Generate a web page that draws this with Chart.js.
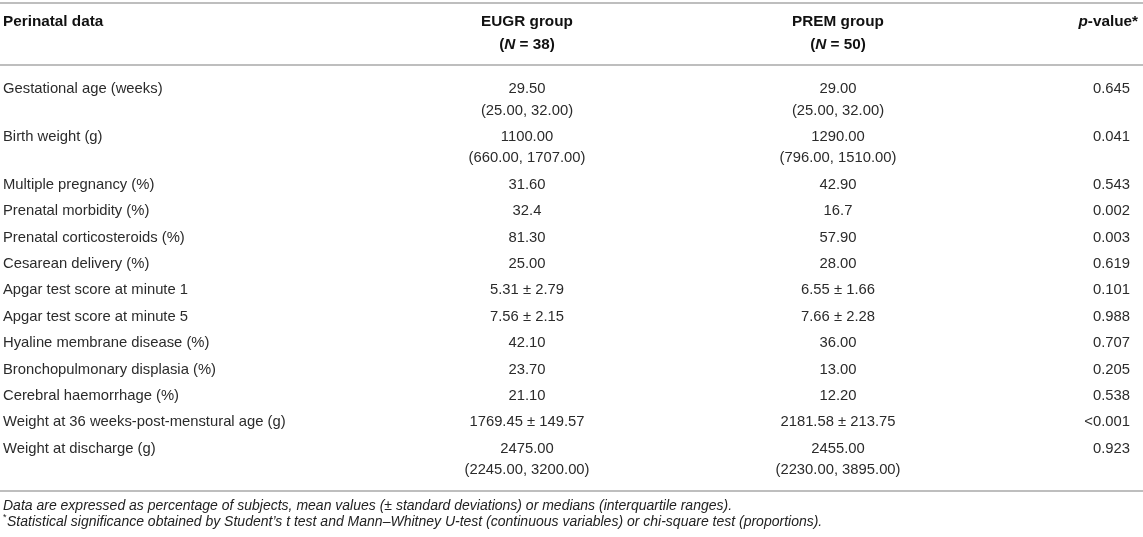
<!DOCTYPE html>
<html>
<head>
<meta charset="utf-8">
<script src="https://cdn.jsdelivr.net/npm/chart.js@4.4.1/dist/chart.umd.min.js"></script>
<style>
  html, body { margin: 0; padding: 0; background: #fff; }
  #tableChart { display: block; }
</style>
</head>
<body>
<canvas id="tableChart" width="1143" height="537"></canvas>
<script>
  'use strict';

  // table content
  var perinatalData = [
    'Gestational age (weeks)',
    'Birth weight (g)',
    'Multiple pregnancy (%)',
    'Prenatal morbidity (%)',
    'Prenatal corticosteroids (%)',
    'Cesarean delivery (%)',
    'Apgar test score at minute 1',
    'Apgar test score at minute 5',
    'Hyaline membrane disease (%)',
    'Bronchopulmonary displasia (%)',
    'Cerebral haemorrhage (%)',
    'Weight at 36 weeks-post-menstural age (g)',
    'Weight at discharge (g)'
  ];
  var eugrGroup = [
    '29.50\n(25.00, 32.00)',
    '1100.00\n(660.00, 1707.00)',
    '31.60',
    '32.4',
    '81.30',
    '25.00',
    '5.31 \u00b1 2.79',
    '7.56 \u00b1 2.15',
    '42.10',
    '23.70',
    '21.10',
    '1769.45 \u00b1 149.57',
    '2475.00\n(2245.00, 3200.00)'
  ];
  var premGroup = [
    '29.00\n(25.00, 32.00)',
    '1290.00\n(796.00, 1510.00)',
    '42.90',
    '16.7',
    '57.90',
    '28.00',
    '6.55 \u00b1 1.66',
    '7.66 \u00b1 2.28',
    '36.00',
    '13.00',
    '12.20',
    '2181.58 \u00b1 213.75',
    '2455.00\n(2230.00, 3895.00)'
  ];
  var pValues = [
    '0.645', '0.041', '0.543', '0.002', '0.003', '0.619', '0.101',
    '0.988', '0.707', '0.205', '0.538', '<0.001', '0.923'
  ];
  var groupNames = ['EUGR group', 'PREM group'];
  var groupSizes = [38, 50];
  var footnotes = [
    'Data are expressed as percentage of subjects, mean values (\u00b1 standard deviations) or medians (interquartile ranges).',
    'Statistical significance obtained by Student\u2019s t test and Mann\u2013Whitney U-test (continuous variables) or chi-square test (proportions).'
  ];

  // layout
  var W = 1143, H = 537;
  var FONT = '"Liberation Sans", Arial, Helvetica, sans-serif';
  var colX = [3, 527, 838, 1130];
  var colAlign = ['left', 'center', 'center', 'right'];
  var firstRowY = 89, rowPitch = 26.4, lineGap = 21.5;
  var headerY = [22, 45];
  var ruleY = [3, 65, 491];
  var footY = [506, 522];

  var rowY = [];
  var y = firstRowY;
  for (var i = 0; i < perinatalData.length; i++) {
    rowY.push(y);
    var n = Math.max(eugrGroup[i].split('\n').length, premGroup[i].split('\n').length);
    y += (n - 1) * lineGap + rowPitch;
  }

  var columns = [perinatalData, eugrGroup, premGroup, pValues];
  var datasets = columns.map(function (col, c) {
    return {
      label: 'col' + c,
      data: col.map(function (txt, r) { return { x: colX[c], y: rowY[r], t: txt }; }),
      pointRadius: 0,
      pointHoverRadius: 0
    };
  });

  function drawRich(ctx, parts, x, yy, align) {
    var total = 0;
    parts.forEach(function (p) { ctx.font = p[1]; total += ctx.measureText(p[0]).width; });
    var start = align === 'center' ? x - total / 2 : (align === 'right' ? x - total : x);
    ctx.textAlign = 'left';
    parts.forEach(function (p) {
      ctx.font = p[1];
      ctx.fillText(p[0], start, yy);
      start += ctx.measureText(p[0]).width;
    });
  }

  var tablePlugin = {
    id: 'tablePlugin',
    beforeDatasetsDraw: function (chart) {
      var ctx = chart.ctx, sx = chart.scales.x, sy = chart.scales.y;
      ctx.save();
      ctx.strokeStyle = '#a9a9a9';
      ctx.lineWidth = 1.5;
      ruleY.forEach(function (v) {
        var py = sy.getPixelForValue(v);
        ctx.beginPath();
        ctx.moveTo(sx.getPixelForValue(0), py);
        ctx.lineTo(sx.getPixelForValue(W), py);
        ctx.stroke();
      });
      ctx.restore();
    },
    afterDatasetsDraw: function (chart) {
      var ctx = chart.ctx, sx = chart.scales.x, sy = chart.scales.y;
      ctx.save();
      ctx.textBaseline = 'middle';

      // header
      var bold = 'bold 15.3px ' + FONT, boldIt = 'italic bold 15.3px ' + FONT;
      ctx.fillStyle = '#111';
      var h1 = sy.getPixelForValue(headerY[0]), h2 = sy.getPixelForValue(headerY[1]);
      drawRich(ctx, [['Perinatal data', bold]], sx.getPixelForValue(colX[0]), h1, 'left');
      for (var g = 0; g < 2; g++) {
        var gx = sx.getPixelForValue(colX[g + 1]);
        drawRich(ctx, [[groupNames[g], bold]], gx, h1, 'center');
        drawRich(ctx, [['(', bold], ['N', boldIt], [' = ' + groupSizes[g] + ')', bold]], gx, h2, 'center');
      }
      drawRich(ctx, [['p', boldIt], ['-value*', bold]], sx.getPixelForValue(W - 5), h1, 'right');

      // body cells
      ctx.font = '14.8px ' + FONT;
      ctx.fillStyle = '#2b2b2b';
      chart.data.datasets.forEach(function (ds, c) {
        var meta = chart.getDatasetMeta(c);
        ctx.textAlign = colAlign[c];
        meta.data.forEach(function (el, r) {
          ds.data[r].t.split('\n').forEach(function (line, k) {
            ctx.fillText(line, el.x, el.y + k * lineGap);
          });
        });
      });

      // footnotes
      var foot = 'italic 14px ' + FONT;
      ctx.fillStyle = '#222';
      ctx.textAlign = 'left';
      ctx.font = foot;
      ctx.fillText(footnotes[0], sx.getPixelForValue(3), sy.getPixelForValue(footY[0]));
      ctx.font = '9px ' + FONT;
      ctx.fillText('*', sx.getPixelForValue(3), sy.getPixelForValue(footY[1] - 4));
      ctx.font = foot;
      ctx.fillText(footnotes[1], sx.getPixelForValue(7), sy.getPixelForValue(footY[1]));
      ctx.restore();
    }
  };

  var tableChart = new Chart(document.getElementById('tableChart').getContext('2d'), {
    type: 'scatter',
    data: { datasets: datasets },
    options: {
      responsive: false,
      animation: false,
      events: [],
      layout: { padding: 0 },
      plugins: { legend: { display: false }, tooltip: { enabled: false } },
      scales: {
        x: { type: 'linear', display: false, min: 0, max: W },
        y: { type: 'linear', display: false, min: 0, max: H, reverse: true }
      }
    },
    plugins: [tablePlugin]
  });
</script>
</body>
</html>
